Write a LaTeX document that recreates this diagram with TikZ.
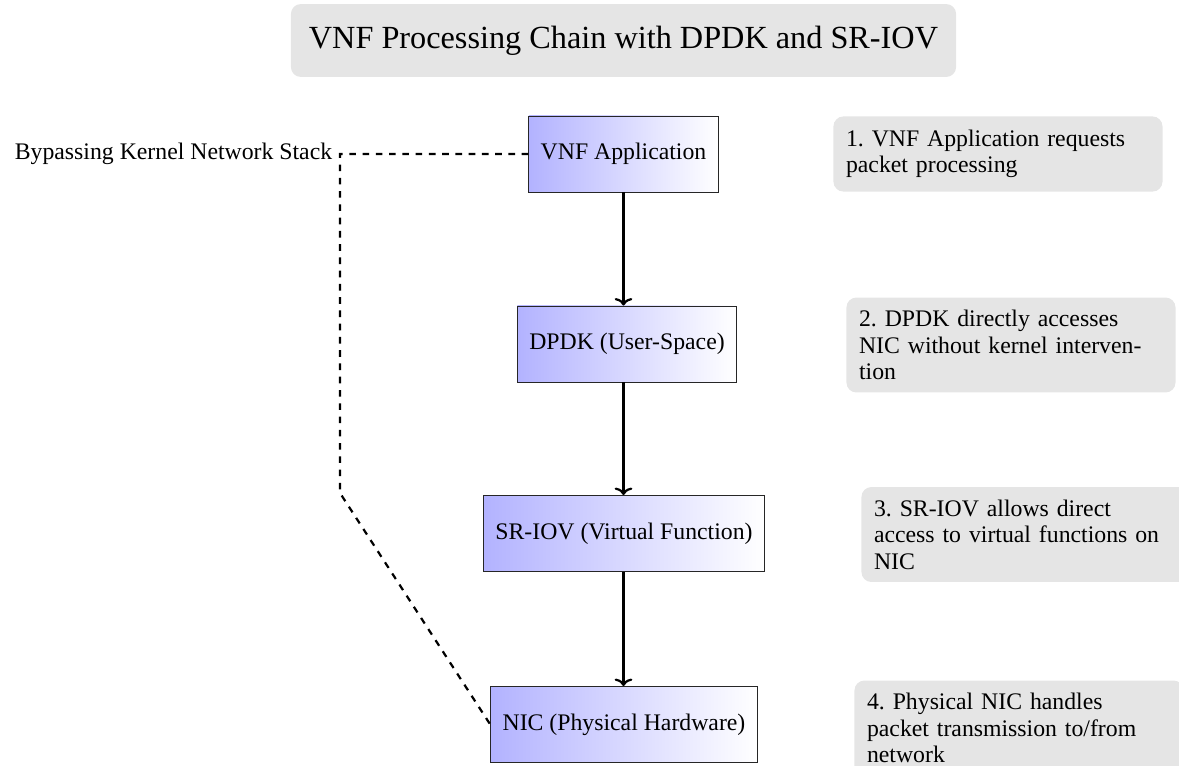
\documentclass[tikz,border=0pt]{standalone}
\usepackage{fontspec}
\setmainfont{Liberation Serif}
\usetikzlibrary{arrows.meta}
\frenchspacing
\newcommand{\bodysize}{\fontsize{10.75}{12}\selectfont}
\begin{document}
\begin{tikzpicture}[x=0.4525pt,y=-0.4525pt,
  every node/.style={font=\bodysize},
  stage/.style={draw=black!85, thin, left color=blue!30, right color=white,
    minimum height=34.4pt, inner xsep=5.4pt},
  note/.style={fill=gray!20, rounded corners=4.5pt, text width=137.5pt,
    inner sep=5.7pt, minimum height=34pt, align=left, anchor=west},
  flow/.style={-{To[length=3.4pt,width=8pt]}, line width=1pt},
  bypass/.style={dashed, line width=1pt}]
  \useasboundingbox (0,0) rectangle (1179,765);

  % title banner
  \node[fill=gray!20, rounded corners=4.5pt, minimum width=301pt,
        minimum height=33pt, font=\fontsize{14.6}{17}\selectfont] (title) at (623.5,40.5)
        {VNF Processing Chain with DPDK and SR-IOV};

  % processing chain
  \node[stage] (vnf)   at (623.5,154)   {VNF Application};
  \node[stage] (dpdk)  at (627,344)     {DPDK (User-Space)};
  \node[stage] (sriov) at (624,533.5)   {SR-IOV (Virtual Function)};
  \node[stage] (nic)   at (624,724.5)   {NIC (Physical Hardware)};

  \draw[flow] (vnf.south)   -- (vnf.south |- dpdk.north);
  \draw[flow] (vnf.south |- dpdk.south)  -- (vnf.south |- sriov.north);
  \draw[flow] (vnf.south |- sriov.south) -- (vnf.south |- nic.north);

  % kernel bypass path
  \coordinate (bpTop) at (340,154);
  \coordinate (bpBend) at (340,493);
  \node[left] (bplabel) at (bpTop) {Bypassing Kernel Network Stack};
  \draw[bypass] (vnf.west) -- (bpTop) -- (bpBend) -- (nic.west);

  % step descriptions
  \node[note] (n1) at (833,154)   {1. VNF Application requests\\packet processing};
  \node[note] (n2) at (846,345)   {2. DPDK directly accesses\\NIC without kernel interven-\\tion};
  \node[note] (n3) at (861,534.5) {3. SR-IOV allows direct\\access to virtual functions on\\NIC};
  \node[note] (n4) at (854,728)   {4. Physical NIC handles\\packet transmission to/from\\network};
\end{tikzpicture}
\end{document}
